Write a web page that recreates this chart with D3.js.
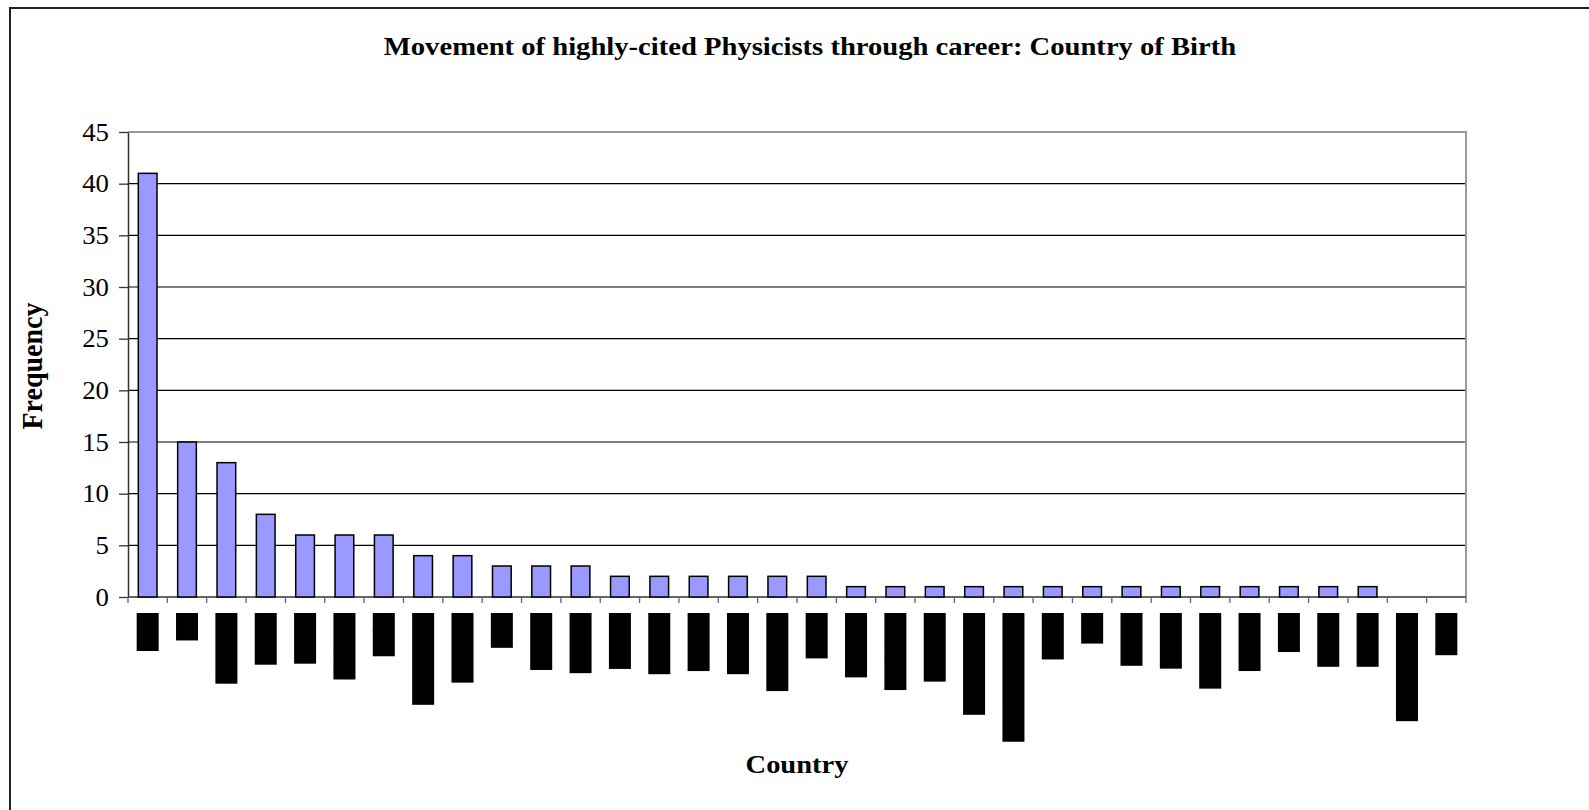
<!DOCTYPE html>
<html><head><meta charset="utf-8">
<script src="https://cdn.jsdelivr.net/npm/d3@7"></script>
<style>body{margin:0;background:#fff;} svg{display:block;}</style>
</head><body>
<svg id="c" width="1589" height="810"></svg>
<script>
// ---- data ----
const categories = ["USA","UK","Germany","France","Russia","Hungary","Japan","Netherlands","Australia","Italy",
  "Canada","Sweden","Austria","Norway","Finland","Ukraine","Venezuela","China","Pakistan","Singapore",
  "Romania","New Zealand","Austria-Hungary","Brazil","Iran","Poland","Taiwan","Argentina","Mexico","India",
  "Ireland","Greece","East Germany","Israel"];
const frequency = [41,15,13,8,6,6,6,4,4,3,3,3,2,2,2,2,2,2,1,1,1,1,1,1,1,1,1,1,1,1,1,1,0,0];
const yTicks = [0,5,10,15,20,25,30,35,40,45];
const chartTitle = "Movement of highly-cited Physicists through career: Country of Birth";
const xTitle = "Country";
const yTitle = "Frequency";

// ---- layout ----
const FONT = "'Liberation Serif','Times New Roman',serif";
const SX = 1.14; // horizontal glyph stretch seen in the reference
const svg = d3.select("#c");
const m = {l:128, t:132, r:1466, b:597};

svg.append("rect").attr("x",10).attr("y",8).attr("width",1640).attr("height",900)
  .attr("fill","none").attr("stroke","#222").attr("stroke-width",2);

const x = d3.scaleBand().domain(categories).range([m.l, m.r]);
const y = d3.scaleLinear().domain([0,45]).range([m.b, m.t]);

// gridlines
svg.append("g").selectAll("line").data(yTicks.filter(v => v>0 && v<45)).join("line")
  .attr("x1", m.l).attr("x2", m.r).attr("y1", d=>y(d)).attr("y2", d=>y(d))
  .attr("stroke","#000").attr("stroke-width",1.2);

// plot border (top/right grey)
svg.append("path").attr("d", `M${m.l},${y(45)}H${m.r}V${y(0)}`)
  .attr("fill","none").attr("stroke","#999").attr("stroke-width",2);

// y axis
const ya = svg.append("g").attr("transform",`translate(${m.l},0)`)
  .call(d3.axisLeft(y).tickValues(yTicks).tickSize(9).tickSizeOuter(0));
ya.select(".domain").attr("stroke","#333").attr("stroke-width",1.5);
ya.selectAll(".tick line").attr("stroke","#333").attr("stroke-width",1.3);
ya.selectAll(".tick text").attr("x",0).attr("dy",null)
  .attr("dominant-baseline","central")
  .attr("transform","translate(-19,0) scale(1.05,1)")
  .attr("font-family",FONT).attr("font-size",25.5).attr("fill","#000");

// x axis line & ticks at band boundaries
const bounds = categories.map(c => x(c)).concat([m.r]);
svg.append("line").attr("x1",m.l).attr("x2",m.r).attr("y1",y(0)).attr("y2",y(0))
  .attr("stroke","#333").attr("stroke-width",1.5);
svg.append("g").selectAll("line").data(bounds).join("line")
  .attr("x1",d=>d).attr("x2",d=>d).attr("y1",y(0)).attr("y2",y(0)+6)
  .attr("stroke","#666").attr("stroke-width",1.3);

// bars
const bw = x.bandwidth();
svg.append("g").selectAll("rect").data(categories.map((c,i)=>({c, v:frequency[i]})).filter(d=>d.v>0)).join("rect")
  .attr("x", d=>x(d.c)+bw*0.262).attr("width", bw*0.475)
  .attr("y", d=>y(d.v)).attr("height", d=>y(0)-y(d.v))
  .attr("fill","#9999ff").attr("stroke","#000").attr("stroke-width",1.5);

// category labels (redacted in the reference: drawn as black blocks over the rotated text)
const lg = svg.append("g").selectAll("g").data(categories).join("g")
  .attr("transform", c=>`translate(${x(c)+bw/2},${y(0)+16}) rotate(90)`);
lg.each(function(c){
  const g = d3.select(this);
  const t = g.append("text").text(c).attr("x",0).attr("y",0)
    .attr("dominant-baseline","central").attr("font-family",FONT).attr("font-size",19).attr("fill","#000");
  const len = t.node().getComputedTextLength();
  g.insert("rect","text").attr("x",0).attr("y",-11).attr("width",len).attr("height",22).attr("fill","#000");
});

// titles
svg.append("text").text(chartTitle)
  .attr("transform",`translate(810,55) scale(1.145,1)`).attr("text-anchor","middle")
  .attr("font-family",FONT).attr("font-weight","bold").attr("font-size",25).attr("fill","#000");
svg.append("text").text(xTitle)
  .attr("transform",`translate(797,773) scale(${SX},1)`).attr("text-anchor","middle")
  .attr("font-family",FONT).attr("font-weight","bold").attr("font-size",25).attr("fill","#000");
svg.append("text").text(yTitle)
  .attr("transform",`translate(42,366) rotate(-90) scale(1,1.02)`).attr("text-anchor","middle")
  .attr("font-family",FONT).attr("font-weight","bold").attr("font-size",28).attr("fill","#000");
</script>
</body></html>
